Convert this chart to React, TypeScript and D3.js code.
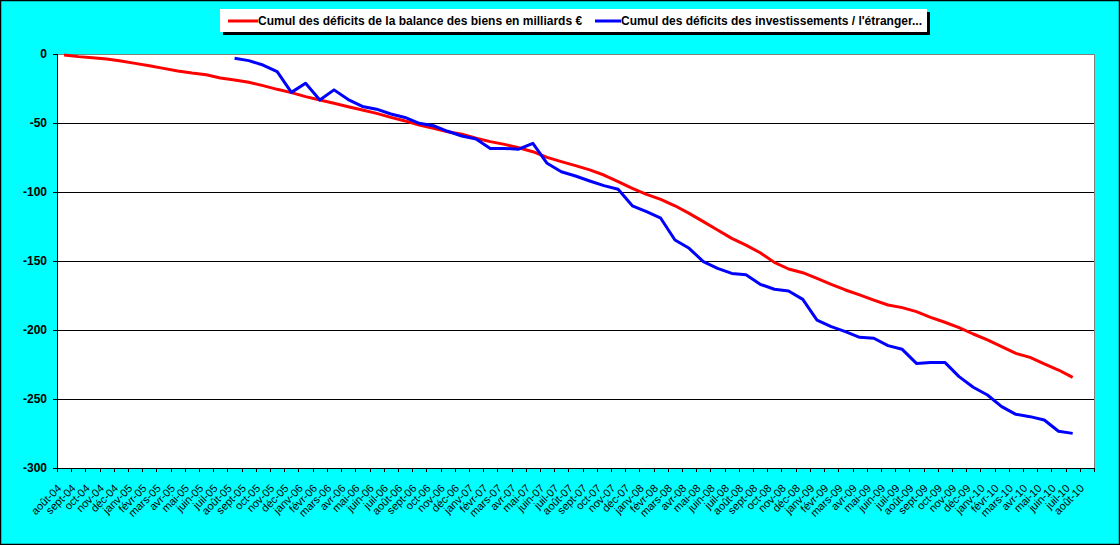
import { useEffect, useRef } from "react";
import * as d3 from "d3";

// Month names and years used to build the category labels
const monthNames = ["août", "sept", "oct", "nov", "déc", "janv", "févr", "mars", "avr", "mai", "juin", "juil"];
const categories: string[] = [];
for (let i = 0; i < 73; i++) {
    const year = 4 + Math.floor((i + 7) / 12);
    categories.push(`${monthNames[i % 12]}-${String(year).padStart(2, "0")}`);
}

// Cumulative goods balance deficit (billions €), from août-04
const balanceBiens = [
    -0.7, -1.9, -2.7, -3.6, -5, -6.8, -8.5, -10.4, -12.3, -13.8, -15, -17.4,
    -18.8, -20.5, -22.9, -25.6, -28, -30.9, -33.3, -35.7, -38.2, -40.6, -43, -45.9,
    -48.5, -51.4, -53.9, -56.3, -58.2, -61.1, -63.5, -65.5, -67.9, -70.8, -74.9, -78,
    -80.9, -84, -87.7, -92.5, -97.3, -101.7, -105.3, -110, -115.5, -121.5, -127.5, -133.6,
    -138.5, -144, -151, -155.8, -158.5, -162.6, -166.9, -171, -174.6, -178.3, -181.9, -183.8,
    -186.7, -190.8, -194.4, -198.3, -202.9, -207.2, -212, -216.9, -219.8, -224.6, -229, -234.3,
];

// Cumulative investment deficit, starts at août-05 (index 12)
const investStart = 12;
const investissements = [
    -3.1, -4.8, -8, -12.8, -27.8, -21.2, -33.3, -26, -33, -38, -40, -43.5,
    -46, -50.2, -52, -56, -59.4, -61.6, -68.4, -68.4, -69, -64.7, -79.2, -85.3,
    -88.4, -92, -95.4, -98, -110, -114.3, -119, -134.8, -140.8, -150.5, -155.3, -159,
    -160, -166.9, -170.5, -171.7, -177.8, -192.8, -197.6, -201.2, -205.3, -206, -211.3, -214,
    -224.2, -223.5, -223.5, -233.8, -241.5, -247.1, -255.5, -261.1, -262.8, -265.2, -273.4, -274.9,
];

const yTicks = [0, -50, -100, -150, -200, -250, -300];

const seriesNames = [
    "Cumul des déficits de la balance des biens en milliards €",
    "Cumul des déficits des investissements / l'étranger...",
];

export default function App() {
    const svgRef = useRef<SVGSVGElement | null>(null);

    useEffect(() => {
        if (!svgRef.current) return;
        const W = 1120;
        const H = 545;
        const font = "'Liberation Sans', Arial, sans-serif";

        const svg = d3.select(svgRef.current);
        svg.selectAll("*").remove();

        // background + outer frame
        svg.append("rect")
            .attr("x", 0.5).attr("y", 0.5)
            .attr("width", W - 1).attr("height", H - 1)
            .attr("fill", "#00ffff")
            .attr("stroke", "#000").attr("stroke-width", 1.5);

        const left = 57, right = 1094, top = 54, bottom = 468;

        const x = d3.scaleBand<string>()
            .domain(categories)
            .range([left, right])
            .paddingInner(0).paddingOuter(0);
        const cx = (i: number) => (x(categories[i]) as number) + x.bandwidth() / 2;

        const y = d3.scaleLinear().domain([-300, 0]).range([bottom, top]);

        // plot area
        svg.append("rect")
            .attr("x", left).attr("y", top)
            .attr("width", right - left).attr("height", bottom - top)
            .attr("fill", "#fff");
        // gray frame on top/right
        svg.append("path")
            .attr("d", `M${left},${top + 0.5}H${right + 0.5}V${bottom}`)
            .attr("fill", "none")
            .attr("stroke", "#808080").attr("stroke-width", 1);

        // gridlines
        svg.append("g")
            .selectAll("line")
            .data(yTicks.filter((t) => t !== 0 && t !== -300))
            .enter()
            .append("line")
            .attr("x1", left).attr("x2", right)
            .attr("y1", (d) => Math.round(y(d)) + 0.5)
            .attr("y2", (d) => Math.round(y(d)) + 0.5)
            .attr("stroke", "#000").attr("stroke-width", 1);

        // y axis
        svg.append("line")
            .attr("x1", left + 0.5).attr("x2", left + 0.5)
            .attr("y1", top).attr("y2", bottom)
            .attr("stroke", "#000");
        const yg = svg.append("g");
        yg.selectAll("line")
            .data(yTicks)
            .enter()
            .append("line")
            .attr("x1", left - 4).attr("x2", left)
            .attr("y1", (d) => Math.round(y(d)) + 0.5)
            .attr("y2", (d) => Math.round(y(d)) + 0.5)
            .attr("stroke", "#000");
        yg.selectAll("text")
            .data(yTicks)
            .enter()
            .append("text")
            .attr("x", 47)
            .attr("y", (d) => y(d) + 4)
            .attr("text-anchor", "end")
            .attr("font-family", font)
            .attr("font-weight", "bold")
            .attr("font-size", "12px")
            .text((d) => d);

        // x axis
        svg.append("line")
            .attr("x1", left).attr("x2", right)
            .attr("y1", bottom + 0.5).attr("y2", bottom + 0.5)
            .attr("stroke", "#000");
        const xg = svg.append("g");
        xg.selectAll("line")
            .data(d3.range(categories.length + 1))
            .enter()
            .append("line")
            .attr("x1", (i) => Math.round(left + i * x.bandwidth()) + 0.5)
            .attr("x2", (i) => Math.round(left + i * x.bandwidth()) + 0.5)
            .attr("y1", bottom).attr("y2", bottom + 4)
            .attr("stroke", "#000");
        xg.selectAll("text")
            .data(categories)
            .enter()
            .append("text")
            .attr("transform", (d, i) => `translate(${cx(i) - 2},${bottom + 21}) rotate(-45)`)
            .attr("text-anchor", "end")
            .attr("font-family", font)
            .attr("font-size", "11px")
            .attr("fill", "#000")
            .text((d) => d);

        // lines
        const line = d3.line<[number, number | null]>()
            .defined((d) => d[1] !== null)
            .x((d) => cx(d[0]))
            .y((d) => y(d[1] as number));

        const redPts: [number, number | null][] = balanceBiens.map((v, i) => [i, v]);
        const bluePts: [number, number | null][] = investissements.map((v, i) => [i + investStart, v]);

        svg.append("path")
            .attr("d", line(redPts) as string)
            .attr("fill", "none")
            .attr("stroke", "#ff0000")
            .attr("stroke-width", 3)
            .attr("stroke-linejoin", "round");
        svg.append("path")
            .attr("d", line(bluePts) as string)
            .attr("fill", "none")
            .attr("stroke", "#0000ff")
            .attr("stroke-width", 3)
            .attr("stroke-linejoin", "round");

        // legend
        const lg = svg.append("g");
        lg.append("rect")
            .attr("x", 223).attr("y", 12)
            .attr("width", 707).attr("height", 23)
            .attr("fill", "#000");
        lg.append("rect")
            .attr("x", 220).attr("y", 9)
            .attr("width", 707).attr("height", 23)
            .attr("fill", "#fff");
        const items = [
            { name: seriesNames[0], color: "#ff0000", x0: 228, tx: 258 },
            { name: seriesNames[1], color: "#0000ff", x0: 595, tx: 621 },
        ];
        items.forEach((it) => {
            lg.append("line")
                .attr("x1", it.x0).attr("x2", it.tx)
                .attr("y1", 21).attr("y2", 21)
                .attr("stroke", it.color).attr("stroke-width", 3);
            lg.append("text")
                .attr("x", it.tx).attr("y", 25)
                .attr("font-family", font)
                .attr("font-weight", "bold")
                .attr("font-size", "12px")
                .attr("fill", "#000")
                .text(it.name);
        });
    }, []);

    return (
        <svg
            ref={svgRef}
            width={1120}
            height={545}
            style={{ position: "absolute", left: 0, top: 0, display: "block" }}
        />
    );
}
